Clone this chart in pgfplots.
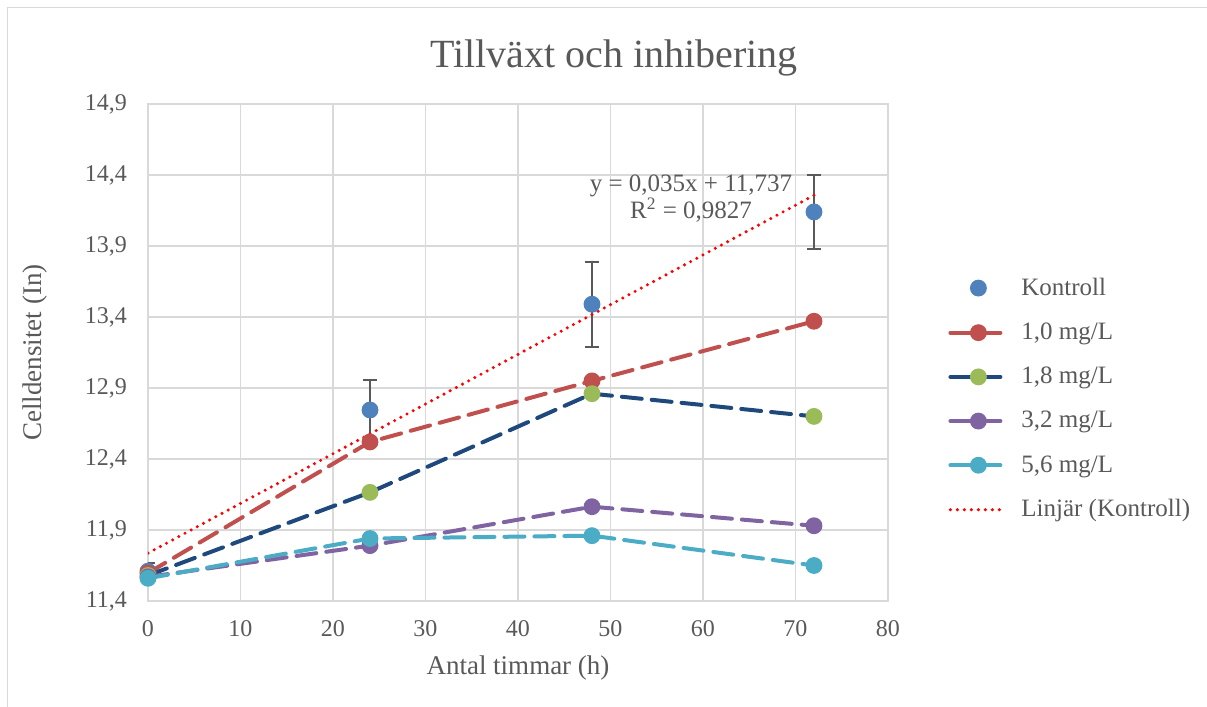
\documentclass[border=0pt]{standalone}
\usepackage{fontspec}
\setmainfont{Liberation Serif}
\usepackage{pgfplots}
\pgfplotsset{compat=1.18}
\definecolor{txt}{HTML}{595959}
\definecolor{gridc}{HTML}{D9D9D9}
\definecolor{cK}{HTML}{4F81BD}
\definecolor{cA}{HTML}{C0504D}
\definecolor{cB}{HTML}{1F497D}
\definecolor{cBm}{HTML}{9BBB59}
\definecolor{cC}{HTML}{8064A2}
\definecolor{cD}{HTML}{4BACC6}
\begin{document}
\begin{tikzpicture}
\path[use as bounding box] (-74pt,-53pt) rectangle (529.5pt,300.5pt);
\draw[gridc, line width=0.5pt] (-70pt,-60pt) -- (-70pt,296.5pt) -- (540pt,296.5pt);
\begin{axis}[
  at={(0,0)}, anchor=south west,
  scale only axis, width=370pt, height=248.5pt,
  xmin=0, xmax=80, ymin=11.4, ymax=14.9,
  xtick={0,10,...,80},
  ytick={11.4,11.9,12.4,12.9,13.4,13.9,14.4,14.9},
  grid=major, major grid style={gridc, line width=0.75pt},
  axis line style={gridc, line width=0.75pt},
  major tick length=0pt,
  tick label style={font=\fontsize{12}{14}\selectfont, text=txt},
  /pgf/number format/assume math mode=true,
  /pgf/number format/use comma,
  /pgf/number format/1000 sep={},
  yticklabel style={/pgf/number format/fixed, /pgf/number format/fixed zerofill, /pgf/number format/precision=1, xshift=-7pt},
  xticklabel style={yshift=-6pt},
  xlabel={Antal timmar (h)}, ylabel={Celldensitet (In)},
  label style={font=\fontsize{13.5}{16}\selectfont, text=txt},
  xlabel style={at={(axis description cs:0.5,-0.1348)}, anchor=center},
  ylabel style={at={(axis description cs:-0.1527,0.5)}, anchor=center},
  title={Tillväxt och inhibering},
  title style={font=\fontsize{20}{24}\selectfont, text=txt, at={(axis description cs:0.63,1.0684)}, anchor=center},
  legend style={draw=none, fill=none, at={(1.073,0.667)}, anchor=north west,
    font=\fontsize{12.5}{15}\selectfont, text=txt, row sep=8.3pt,
    legend cell align=left, /tikz/every odd column/.append style={column sep=4.5pt}},
  legend image code/.code={\draw[mark repeat=2,mark phase=2,#1] plot coordinates {(0pt,0pt) (14pt,0pt) (28pt,0pt)};},
  every axis plot/.append style={line width=2pt, dash pattern=on 10pt off 5pt, line cap=round},
  mark size=3.2pt,
]
\addplot[only marks, mark=*, mark options={draw=cK, fill=cK, solid},
  error bars/.cd, y dir=both, y explicit,
  error bar style={txt, line width=0.9pt, solid},
  error mark options={txt, line width=0.9pt, mark size=3.5pt, rotate=90, solid}]
  coordinates {(0,11.61) +- (0,0.06) (24,12.745) +- (0,0.21) (48,13.49) +- (0,0.30) (72,14.14) +- (0,0.26)};
\addlegendentry{Kontroll}
\addplot[cA, mark=*, mark options={solid, fill=cA, draw=cA}]
  coordinates {(0,11.597) (24,12.52) (48,12.95) (72,13.37)};
\addlegendentry{1,0 mg/L}
\addplot[cB, mark=*, mark options={solid, fill=cBm, draw=cBm}]
  coordinates {(0,11.58) (24,12.165) (48,12.86) (72,12.70)};
\addlegendentry{1,8 mg/L}
\addplot[cC, mark=*, mark options={solid, fill=cC, draw=cC}]
  coordinates {(0,11.57) (24,11.79) (48,12.064) (72,11.93)};
\addlegendentry{3,2 mg/L}
\addplot[cD, mark=*, mark options={solid, fill=cD, draw=cD}]
  coordinates {(0,11.56) (24,11.84) (48,11.86) (72,11.65)};
\addlegendentry{5,6 mg/L}
\addplot[red, no marks, line width=1.7pt, dash pattern=on 0pt off 3.5pt, line cap=round]
  coordinates {(0,11.737) (72,14.257)};
\addlegendentry{Linjär (Kontroll)}
\node[text=txt, font=\fontsize{12.5}{13.5}\selectfont, align=center] at (axis cs:58.7,14.235) {y = 0,035x + 11,737\\R\textsuperscript{2} = 0,9827};
\end{axis}
\end{tikzpicture}
\end{document}
